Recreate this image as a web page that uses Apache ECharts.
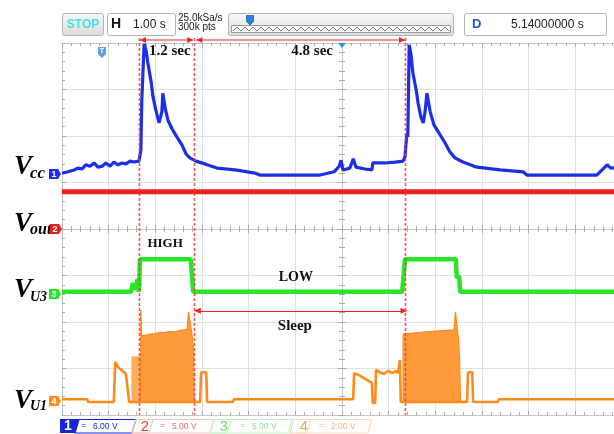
<!DOCTYPE html>
<html>
<head>
<meta charset="utf-8">
<script src="https://cdn.jsdelivr.net/npm/echarts/dist/echarts.min.js"></script>
<style>
html,body{margin:0;padding:0;background:#ffffff;}
#chart{width:614px;height:434px;}
</style>
</head>
<body>
<div id="chart"></div>
<script>
// x: time in seconds relative to screen centre (1.00 s/div); y: vertical divisions relative to centre
const vccTrace = [[-6.00,1.20],[-5.87,1.23],[-5.74,1.27],[-5.66,1.31],[-5.57,1.29],[-5.49,1.38],[-5.40,1.35],[-5.31,1.42],[-5.23,1.33],[-5.14,1.35],[-5.06,1.42],[-4.97,1.35],[-4.89,1.44],[-4.80,1.38],[-4.71,1.42],[-4.63,1.40],[-4.54,1.46],[-4.46,1.44],[-4.35,1.46],[-4.31,1.70],[-4.29,2.77],[-4.24,3.98],[-4.20,3.85],[-4.16,3.57],[-4.09,3.16],[-4.05,2.84],[-3.99,2.56],[-3.92,2.28],[-3.90,2.26],[-3.86,2.52],[-3.84,2.92],[-3.79,2.60],[-3.73,2.34],[-3.64,2.15],[-3.54,1.98],[-3.43,1.81],[-3.34,1.61],[-3.26,1.53],[-3.13,1.46],[-2.94,1.40],[-2.68,1.31],[-2.29,1.27],[-1.86,1.20],[-1.76,1.16],[-1.11,1.16],[-0.47,1.16],[-0.17,1.23],[-0.06,1.35],[-0.02,1.48],[0.02,1.27],[0.17,1.31],[0.24,1.51],[0.30,1.33],[0.49,1.29],[0.64,1.27],[0.66,1.42],[0.92,1.42],[1.14,1.44],[1.31,1.46],[1.35,1.55],[1.39,2.06],[1.41,1.98],[1.44,3.96],[1.48,3.74],[1.52,3.35],[1.59,2.99],[1.63,2.71],[1.69,2.41],[1.74,2.28],[1.78,2.52],[1.82,2.92],[1.89,2.52],[1.97,2.24],[2.08,2.06],[2.21,1.85],[2.31,1.66],[2.42,1.53],[2.59,1.44],[2.89,1.33],[3.39,1.27],[3.88,1.23],[3.96,1.16],[4.67,1.16],[5.46,1.16],[5.59,1.29],[5.68,1.38],[5.76,1.31],[6.00,1.33]];
const voutTrace = [[-6.00,0.80],[6.00,0.80]];
const u3Trace = [[-6.00,-1.35],[-4.52,-1.35],[-4.48,-1.16],[-4.45,-1.30],[-4.41,-1.22],[-4.38,-1.08],[-4.35,-1.35],[-4.33,-0.65],[-3.24,-0.65],[-3.19,-1.35],[1.29,-1.35],[1.31,-1.12],[1.35,-0.65],[2.44,-0.65],[2.46,-1.05],[2.51,-1.01],[2.53,-1.35],[6.00,-1.35]];
const u1Trace = [[-6.00,-3.66],[-5.46,-3.66],[-5.44,-3.72],[-4.89,-3.72],[-4.86,-2.86],[-4.80,-2.97],[-4.71,-3.05],[-4.63,-3.12],[-4.59,-3.16],[-4.56,-3.72],[-4.52,-3.72],[-4.50,-3.72],[-3.15,-3.72],[-3.04,-3.72],[-3.02,-3.08],[-2.91,-3.08],[-2.89,-3.72],[-2.34,-3.72],[-2.31,-3.66],[0.24,-3.66],[0.26,-3.10],[0.39,-3.16],[0.51,-3.23],[0.64,-3.31],[0.66,-3.74],[0.71,-3.74],[0.73,-3.03],[0.81,-3.08],[0.90,-3.12],[0.99,-3.05],[1.07,-3.10],[1.16,-3.05],[1.20,-3.10],[1.24,-2.82],[1.26,-3.72],[2.55,-3.72],[2.68,-3.72],[2.70,-3.08],[2.79,-3.08],[2.81,-3.72],[3.34,-3.72],[3.36,-3.66],[6.00,-3.66]];
const u1PreBurst = [[-4.50,-3.72],[-4.50,-2.75],[-4.32,-2.75],[-4.32,-3.72]];
const u1Burst1 = [[-4.32,-3.72],[-4.31,-1.74],[-4.29,-2.30],[-4.20,-2.28],[-4.11,-2.26],[-4.00,-2.25],[-3.90,-2.22],[-3.80,-2.23],[-3.69,-2.20],[-3.58,-2.21],[-3.47,-2.18],[-3.38,-2.17],[-3.32,-2.16],[-3.29,-1.78],[-3.25,-1.80],[-3.21,-2.30],[-3.18,-2.60],[-3.17,-3.72]];
const u1Burst2 = [[1.31,-3.72],[1.31,-2.26],[1.40,-2.25],[1.52,-2.24],[1.67,-2.22],[1.80,-2.21],[1.95,-2.20],[2.10,-2.19],[2.25,-2.18],[2.40,-2.17],[2.43,-1.78],[2.47,-1.80],[2.50,-2.40],[2.52,-2.80],[2.54,-3.72]];
const u1Baseline = -3.72;
const cursorTimes = [-4.34, -3.16, 1.36];
const spanArrows = [[-4.33, -3.19], [-3.12, 1.35]];
const sleepArrow = [-3.10, 1.33, -1.76];
const annotationTexts = ['1.2 sec', '4.8 sec', 'HIGH', 'LOW', 'Sleep'];
const annotationPos = [[-3.69, 3.83], [-0.64, 3.83], [-3.79, -0.32], [-0.99, -1.05], [-1.01, -2.09]];
const annotationSize = [15, 15, 13, 14, 15];
const scaleLabels = ['6.00 V', '5.00 V', '5.00 V', '2.00 V'];

const C_BLUE = '#1d2ee8', C_RED = '#ec2020', C_GREEN = '#26e626', C_ORANGE = '#ff8a1c';
const C_CURSOR = '#f02424';
const GRID_C = '#e0e0e0', AX_C = '#c6c6c6', TICK_C = '#ababab';

function axis(min, max, o) {
  return Object.assign({
    type: 'value', min: min, max: max, interval: 1, silent: true,
    axisLabel: {show: false},
    splitLine: {show: false},
    axisLine: {show: true, onZero: false, lineStyle: {color: AX_C, width: 1}},
    axisTick: {show: true, inside: true, length: 4, lineStyle: {color: TICK_C}},
    minorTick: {show: true, splitNumber: 5, length: 3, lineStyle: {color: TICK_C}},
    minorSplitLine: {show: false}
  }, o);
}
const centreLine = {show: true, onZero: true, onZeroAxisIndex: 0, lineStyle: {color: AX_C, width: 1}};
const outTick = {show: true, inside: false, length: 4, lineStyle: {color: TICK_C}};

const SERIF = '"Liberation Serif","Times New Roman",serif';
const SANS = '"Liberation Sans",Arial,sans-serif';

function txt(x, y, text, font, fill, align, va) {
  return {type: 'text', x: x, y: y, z: 100, silent: true,
    style: {text: text, font: font, fill: fill, align: align || 'left', verticalAlign: va || 'middle',
            textAlign: align || 'left', textVerticalAlign: va || 'middle'}};
}
function poly(points, fill, stroke, lw) {
  return {type: 'polygon', z: 100, silent: true, shape: {points: points},
    style: {fill: fill || 'none', stroke: stroke || 'none', lineWidth: lw || 1}};
}
function marker(x0, yc, color, label) {
  return [poly([[x0, yc - 5], [x0 + 9, yc - 5], [x0 + 12, yc], [x0 + 9, yc + 5], [x0, yc + 5]], color),
          txt(x0 + 5, yc + 0.5, label, 'bold 9px ' + SANS, '#ffffff', 'center')];
}
function grad() {
  return new echarts.graphic.LinearGradient(0, 0, 0, 1, [{offset: 0, color: '#f8f8f8'}, {offset: 1, color: '#dcdcdc'}]);
}

const graphics = [];
// top status bar
graphics.push({type: 'rect', z: 100, silent: true, shape: {x: 62.5, y: 13.5, width: 41, height: 22, r: 2}, style: {fill: grad(), stroke: '#b4b4b4'}});
graphics.push(txt(83, 24.5, 'STOP', 'bold 12px ' + SANS, '#3ee0ea', 'center'));
graphics.push({type: 'rect', z: 100, silent: true, shape: {x: 107.5, y: 13.5, width: 68, height: 22, r: 2}, style: {fill: '#ffffff', stroke: '#b4b4b4'}});
graphics.push(txt(111, 24.5, 'H', 'bold 14px ' + SANS, '#111111'));
graphics.push(txt(133, 25, '1.00 s', '12px ' + SANS, '#222222'));
graphics.push(txt(178, 18.5, '25.0kSa/s', '10px ' + SANS, '#222222'));
graphics.push(txt(178, 27, '300k pts', '10px ' + SANS, '#222222'));
graphics.push({type: 'rect', z: 100, silent: true, shape: {x: 228.5, y: 13.5, width: 225, height: 22, r: 2}, style: {fill: grad(), stroke: '#b4b4b4'}});
graphics.push({type: 'rect', z: 100, silent: true, shape: {x: 231.5, y: 25.5, width: 219, height: 7}, style: {fill: '#ffffff', stroke: '#9a9a9a'}});
(function () {
  const pts = [];
  for (let x = 233, k = 0; x <= 449; x += 4, k++) pts.push([x, k % 2 ? 27 : 31]);
  graphics.push({type: 'polyline', z: 101, silent: true, shape: {points: pts}, style: {stroke: '#777777', lineWidth: 1, fill: 'none'}});
})();
graphics.push(poly([[246.5, 15.5], [253.5, 15.5], [253.5, 21.5], [250, 25], [246.5, 21.5]], '#2f7fe2', '#1f5fb0', 0.8));
graphics.push({type: 'rect', z: 100, silent: true, shape: {x: 464.5, y: 13.5, width: 142, height: 22, r: 2}, style: {fill: '#ffffff', stroke: '#b4b4b4'}});
graphics.push(txt(472, 24.5, 'D', 'bold 13px ' + SANS, '#1f55e0'));
graphics.push(txt(511, 25, '5.14000000 s', '12px ' + SANS, '#222222'));

// trigger markers
graphics.push(poly([[98, 47], [106, 47], [106, 54], [102, 58], [98, 54]], '#5ea0e8'));
graphics.push(txt(102, 51.5, 'T', 'bold 7px ' + SANS, '#ffffff', 'center'));
graphics.push(poly([[338, 43], [346, 43], [342, 48]], '#3b8fe8'));

// channel labels on the left
const leftLabels = [
  {v: 'V', s: 'cc', vy: 167, sy: 174, ss: 17},
  {v: 'V', s: 'out', vy: 224, sy: 230, ss: 16},
  {v: 'V', s: 'U3', vy: 290, sy: 297, ss: 14},
  {v: 'V', s: 'U1', vy: 401, sy: 406, ss: 14}
];
leftLabels.forEach(function (l) {
  graphics.push(txt(14, l.vy, l.v, 'italic bold 27px ' + SERIF, '#000000'));
  graphics.push(txt(30, l.sy, l.s, 'italic bold ' + l.ss + 'px ' + SERIF, '#000000'));
});
graphics.push.apply(graphics, marker(49, 174, C_BLUE, '1'));
graphics.push.apply(graphics, marker(50, 229, C_RED, '2'));
graphics.push.apply(graphics, marker(49, 294, C_GREEN, '3'));
graphics.push.apply(graphics, marker(49, 401, C_ORANGE, '4'));

// bottom channel scale bar
graphics.push(poly([[60, 419], [79, 419], [75, 433], [60, 433]], '#1426d8'));
graphics.push(txt(68, 426.5, '1', 'bold 14px ' + SANS, '#ffffff', 'center'));
graphics.push(poly([[79, 419.5], [136, 419.5], [132, 433], [75, 433]], 'none', '#1426d8', 1.2));
graphics.push(txt(81, 426, '=', '9px ' + SANS, '#1a2ad8'));
graphics.push(txt(93, 426.5, scaleLabels[0], '8.5px ' + SANS, '#1a2ad8'));
const fadedCh = [
  {x0: 136, num: '2', nx: 145, ex: 160, tx: 172, col: '#e83838', tcol: '#ec6a6a', box: '#f6c2c2'},
  {x0: 214, num: '3', nx: 224, ex: 240, tx: 252, col: '#66e066', tcol: '#8ae68a', box: '#c6f2c6'},
  {x0: 294, num: '4', nx: 304, ex: 319, tx: 331, col: '#f4a458', tcol: '#f2b880', box: '#f8dcc0'}
];
fadedCh.forEach(function (c, i) {
  graphics.push(poly([[c.x0, 419.5], [c.x0 + 78, 419.5], [c.x0 + 74, 433], [c.x0 - 4, 433]], 'none', c.box, 1.2));
  graphics.push(poly([[c.x0, 419.5], [c.x0 + 17, 419.5], [c.x0 + 13, 433], [c.x0 - 4, 433]], 'none', c.box, 1));
  graphics.push(txt(c.nx, 426.5, c.num, '15px ' + SANS, c.col, 'center'));
  graphics.push(txt(c.ex, 426, '=', '9px ' + SANS, c.tcol));
  graphics.push(txt(c.tx, 426.5, scaleLabels[i + 1], '8.5px ' + SANS, c.tcol));
});

const chart = echarts.init(document.getElementById('chart'), null, {renderer: 'canvas', width: 614, height: 434});
chart.setOption({
  animation: false,
  backgroundColor: '#ffffff',
  grid: {left: 62, right: -8, top: 43, bottom: 19, outerBoundsMode: 'none', containLabel: false},
  xAxis: [
    axis(-6, 6, {position: 'bottom', splitLine: {show: true, lineStyle: {color: GRID_C, width: 1}}, axisLine: centreLine}),
    axis(-6, 6, {position: 'bottom', axisLine: centreLine, axisTick: outTick}),
    axis(-6, 6, {position: 'bottom'}),
    axis(-6, 6, {position: 'top'})
  ],
  yAxis: [
    axis(-4, 4, {position: 'left', splitLine: {show: true, lineStyle: {color: GRID_C, width: 1}}, axisLine: centreLine}),
    axis(-4, 4, {position: 'left', axisLine: centreLine, axisTick: outTick}),
    axis(-4, 4, {position: 'left'})
  ],
  series: [
    {name: 'Vout', type: 'line', data: voutTrace, symbol: 'none', silent: true, z: 3,
     lineStyle: {color: C_RED, width: 5}},
    {name: 'Vcc', type: 'line', data: vccTrace, symbol: 'none', silent: true, z: 4,
     lineStyle: {color: C_BLUE, width: 3.2},
     markPoint: {silent: true, symbol: 'rect', symbolSize: 1, itemStyle: {color: 'rgba(0,0,0,0)'},
       data: annotationTexts.map(function (s, i) {
         return {name: s, coord: annotationPos[i],
           label: {show: true, position: 'inside', formatter: s, color: '#111111',
             fontFamily: SERIF, fontWeight: 'bold', fontSize: annotationSize[i]}};
       })}},
    {name: 'VU3', type: 'line', data: u3Trace, symbol: 'none', silent: true, z: 4,
     lineStyle: {color: C_GREEN, width: 4.5},
     markLine: {silent: true, animation: false, label: {show: false}, symbol: ['triangle', 'triangle'], symbolSize: [6, 7],
       itemStyle: {color: C_CURSOR},
       lineStyle: {color: C_CURSOR, type: 'solid', width: 1},
       data: [[{coord: [sleepArrow[0], sleepArrow[2]], itemStyle: {color: C_CURSOR}, lineStyle: {color: C_CURSOR, type: 'solid', width: 1}},
               {coord: [sleepArrow[1], sleepArrow[2]], itemStyle: {color: C_CURSOR}}]]}},
    {name: 'VU1 pre', type: 'line', data: u1PreBurst, symbol: 'none', silent: true, z: 4,
     lineStyle: {color: '#ffa24d', width: 1}, areaStyle: {origin: u1Baseline, color: '#ffa64f', opacity: 0.9}},
    {name: 'VU1 burst 1', type: 'line', data: u1Burst1, symbol: 'none', silent: true, z: 4,
     lineStyle: {color: C_ORANGE, width: 1.2}, areaStyle: {origin: u1Baseline, color: '#ff9630', opacity: 0.95}},
    {name: 'VU1 burst 2', type: 'line', data: u1Burst2, symbol: 'none', silent: true, z: 4,
     lineStyle: {color: C_ORANGE, width: 1.2}, areaStyle: {origin: u1Baseline, color: '#ff9630', opacity: 0.95}},
    {name: 'VU1', type: 'line', data: u1Trace, symbol: 'none', silent: true, z: 5,
     lineStyle: {color: C_ORANGE, width: 2.6}}
  ],
  graphic: graphics
});

// cursors and span arrows, positioned through the x scale
(function () {
  const y = 40;
  const extra = [];
  const yTop = chart.convertToPixel({yAxisIndex: 0}, 4) - 5;
  const yBot = chart.convertToPixel({yAxisIndex: 0}, -4);
  cursorTimes.forEach(function (t, i) {
    const x = chart.convertToPixel({xAxisIndex: 0}, t);
    extra.push({type: 'line', id: 'cur' + i, z: 90, silent: true, shape: {x1: x, y1: yTop, x2: x, y2: yBot},
      style: {stroke: '#f23a3a', lineWidth: 1.6, lineDash: [3, 2], opacity: 0.85}});
  });
  spanArrows.forEach(function (a, i) {
    const x1 = chart.convertToPixel({xAxisIndex: 0}, a[0]);
    const x2 = chart.convertToPixel({xAxisIndex: 0}, a[1]);
    extra.push({type: 'line', id: 'sa' + i, z: 100, silent: true, shape: {x1: x1, y1: y, x2: x2, y2: y}, style: {stroke: C_CURSOR, lineWidth: 1}});
    extra.push({type: 'polygon', id: 'sl' + i, z: 100, silent: true, shape: {points: [[x1, y], [x1 + 6, y - 3], [x1 + 6, y + 3]]}, style: {fill: C_CURSOR}});
    extra.push({type: 'polygon', id: 'sr' + i, z: 100, silent: true, shape: {points: [[x2, y], [x2 - 6, y - 3], [x2 - 6, y + 3]]}, style: {fill: C_CURSOR}});
  });
  chart.setOption({graphic: graphics.concat(extra)});
})();
</script>
</body>
</html>
